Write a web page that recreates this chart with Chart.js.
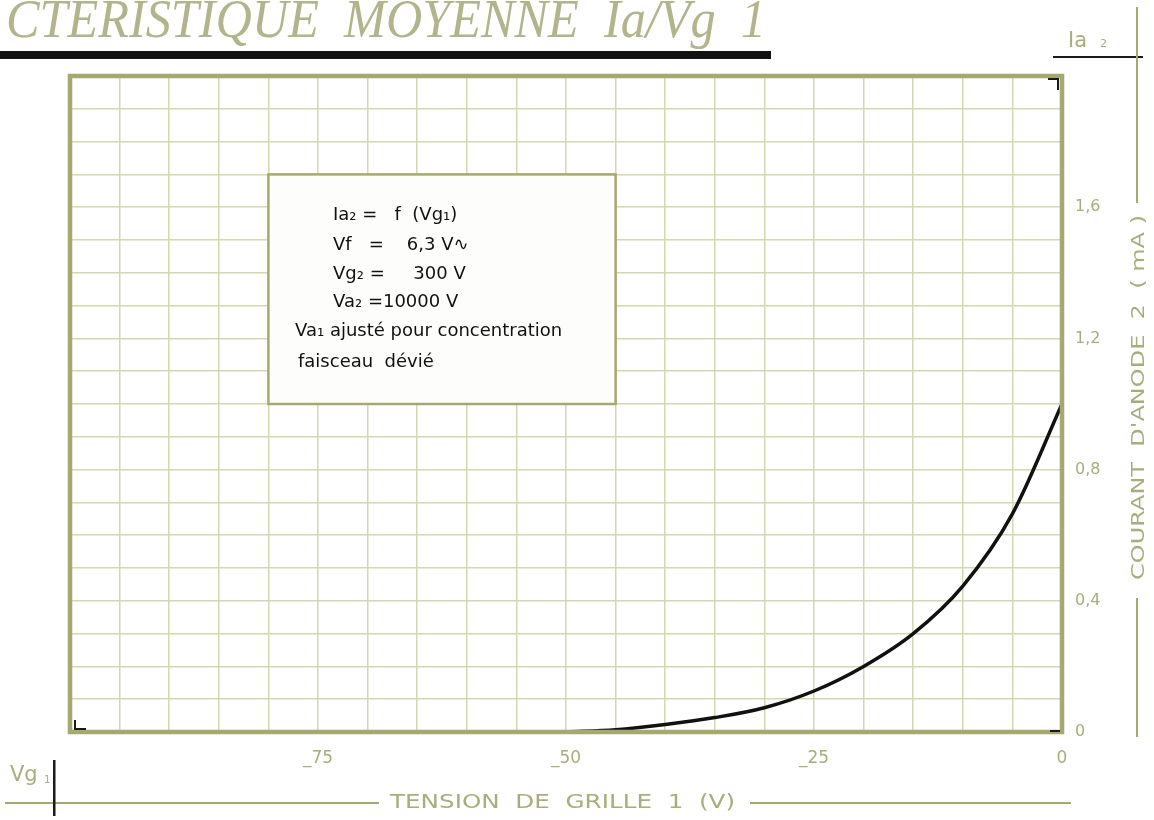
<!DOCTYPE html>
<html>
<head>
<meta charset="utf-8">
<title>Caractéristique moyenne Ia/Vg1</title>
<script src="https://cdn.jsdelivr.net/npm/chart.js@4.4.1/dist/chart.umd.min.js"></script>
<style>
  html, body { margin: 0; padding: 0; background: #ffffff; }
  #wrap { width: 1154px; height: 820px; position: relative; }
</style>
</head>
<body>
<div id="wrap"><canvas id="curve" width="1154" height="820"></canvas></div>
<script>
// values
var gridVoltage = [-50, -45, -40, -35, -30, -25, -20, -15, -10, -5, 0];
var anodeCurrent = [0, 0.007, 0.023, 0.044, 0.074, 0.125, 0.2, 0.3, 0.445, 0.665, 1.0];

var xLabelValues = [-75, -50, -25, 0];
var xLabelTexts = ['_75', '_50', '_25', '0'];
var yLabelValues = [0, 0.4, 0.8, 1.2, 1.6];
var yLabelTexts = ['0', '0,4', '0,8', '1,2', '1,6'];

var boxLines = [
  'Ia\u2082 =   f  (Vg\u2081)',
  'Vf   =    6,3 V\u223F',
  'Vg\u2082 =     300 V',
  'Va\u2082 =10000 V',
  'Va\u2081 ajusté pour concentration',
  'faisceau  dévié'
];

var olive = '#a5a970';
var oliveText = '#a9ad7c';
var gridCol = '#d4d8b0';

function matchLabel(values, texts, v) {
  for (var i = 0; i < values.length; i++) {
    if (Math.abs(values[i] - v) < 1e-6) return texts[i];
  }
  return '';
}

// draw text squeezed/stretched to a given width
function fitText(ctx, text, x, y, width) {
  var w = ctx.measureText(text).width;
  ctx.save();
  ctx.translate(x, y);
  ctx.scale(width / w, 1);
  ctx.fillText(text, 0, 0);
  ctx.restore();
}

var platePlugin = {
  id: 'plate',
  beforeDatasetsDraw: function(chart) {
    var ctx = chart.ctx;
    var xs = chart.scales.x, ys = chart.scales.y;
    // legend box over the grid
    var l = xs.getPixelForValue(-80), r = xs.getPixelForValue(-45);
    var t = ys.getPixelForValue(1.7), b = ys.getPixelForValue(1.0);
    ctx.save();
    ctx.fillStyle = '#fdfdfb';
    ctx.fillRect(l, t, r - l, b - t);
    ctx.strokeStyle = olive;
    ctx.lineWidth = 2.5;
    ctx.strokeRect(l, t, r - l, b - t);
    ctx.fillStyle = '#111111';
    ctx.font = '18px "DejaVu Sans"';
    ctx.textBaseline = 'middle';
    var lineX = [333, 333, 333, 333, 295, 298];
    var lineY = [215, 245, 274, 302, 331, 362];
    for (var i = 0; i < boxLines.length; i++) {
      ctx.fillText(boxLines[i], lineX[i], lineY[i]);
    }
    ctx.restore();
  },
  afterDraw: function(chart) {
    var ctx = chart.ctx;
    var a = chart.chartArea;
    ctx.save();
    // frame
    ctx.strokeStyle = olive;
    ctx.lineWidth = 4.5;
    ctx.strokeRect(a.left, a.top, a.right - a.left, a.bottom - a.top);
    // small black corner marks
    ctx.strokeStyle = '#1a1a1a';
    ctx.lineWidth = 2;
    ctx.beginPath();
    ctx.moveTo(a.right - 14, a.top + 3); ctx.lineTo(a.right - 4, a.top + 3); ctx.lineTo(a.right - 4, a.top + 14);
    ctx.moveTo(a.left + 5, a.bottom - 12); ctx.lineTo(a.left + 5, a.bottom - 3); ctx.lineTo(a.left + 16, a.bottom - 3);
    ctx.moveTo(a.right - 12, a.bottom - 1); ctx.lineTo(a.right - 2, a.bottom - 1);
    ctx.stroke();

    // title
    ctx.fillStyle = '#b2b48b';
    ctx.font = 'italic 54px "Liberation Serif"';
    ctx.textBaseline = 'alphabetic';
    fitText(ctx, 'CTÉRISTIQUE  MOYENNE  Ia/Vg  1', 6, 37, 760);
    ctx.fillStyle = '#111111';
    ctx.fillRect(0, 51, 771, 8);

    // Ia2 corner label
    ctx.fillStyle = oliveText;
    ctx.font = '21px "DejaVu Sans"';
    ctx.textBaseline = 'alphabetic';
    ctx.fillText('Ia', 1068, 47);
    ctx.font = '11px "DejaVu Sans"';
    ctx.fillText('2', 1100, 47);
    ctx.fillStyle = '#1a1a1a';
    ctx.fillRect(1053, 56, 90, 2);

    // right axis title
    ctx.fillStyle = oliveText;
    ctx.strokeStyle = olive;
    ctx.lineWidth = 2;
    var yt = "COURANT  D'ANODE  2  ( mA )";
    ctx.font = '18px "DejaVu Sans"';
    ctx.textBaseline = 'middle';
    ctx.textAlign = 'left';
    ctx.save();
    ctx.translate(1139, 580);
    ctx.rotate(-Math.PI / 2);
    fitText(ctx, yt, 0, 0, 365);
    ctx.restore();
    ctx.beginPath();
    ctx.moveTo(1137, 7); ctx.lineTo(1137, 203);
    ctx.moveTo(1137, 598); ctx.lineTo(1137, 737);
    ctx.stroke();

    // bottom axis title
    ctx.font = '19px "DejaVu Sans"';
    fitText(ctx, 'TENSION  DE  GRILLE  1  (V)', 390, 803, 345);
    ctx.beginPath();
    ctx.moveTo(5, 803); ctx.lineTo(379, 803);
    ctx.moveTo(750, 803); ctx.lineTo(1071, 803);
    ctx.stroke();

    // Vg1 label
    ctx.font = '21px "DejaVu Sans"';
    ctx.textBaseline = 'alphabetic';
    ctx.fillText('Vg', 10, 781);
    ctx.font = '10px "DejaVu Sans"';
    ctx.fillText('1', 44, 783);
    ctx.fillStyle = '#1a1a1a';
    ctx.fillRect(53, 760, 2.5, 56);
    ctx.restore();
  }
};

var ctx = document.getElementById('curve').getContext('2d');
var chart = new Chart(ctx, {
  type: 'line',
  data: {
    datasets: [{
      label: 'Ia2 = f(Vg1)',
      data: gridVoltage.map(function(v, i) { return { x: v, y: anodeCurrent[i] }; }),
      borderColor: '#111111',
      borderWidth: 3.5,
      pointRadius: 0,
      fill: false,
      cubicInterpolationMode: 'monotone'
    }]
  },
  options: {
    responsive: false,
    devicePixelRatio: 1,
    animation: false,
    layout: { padding: { left: 70, top: 76, right: 0, bottom: 0 } },
    plugins: { legend: { display: false }, tooltip: { enabled: false }, title: { display: false } },
    scales: {
      x: {
        type: 'linear',
        min: -100,
        max: 0,
        afterFit: function(scale) { scale.height = 88; },
        ticks: {
          stepSize: 5,
          autoSkip: false,
          maxRotation: 0,
          padding: 16,
          color: oliveText,
          font: { family: 'DejaVu Sans', size: 17 },
          callback: function(v) { return matchLabel(xLabelValues, xLabelTexts, v); }
        },
        grid: { color: gridCol, lineWidth: 1.5, drawTicks: false },
        border: { display: false }
      },
      y: {
        position: 'right',
        min: 0,
        max: 2.0,
        afterFit: function(scale) { scale.width = 92; },
        ticks: {
          stepSize: 0.1,
          autoSkip: false,
          padding: 13,
          color: oliveText,
          font: { family: 'DejaVu Sans', size: 16 },
          callback: function(v) { return matchLabel(yLabelValues, yLabelTexts, v); }
        },
        grid: { color: gridCol, lineWidth: 1.5, drawTicks: false },
        border: { display: false }
      }
    }
  },
  plugins: [platePlugin]
});
</script>
</body>
</html>
